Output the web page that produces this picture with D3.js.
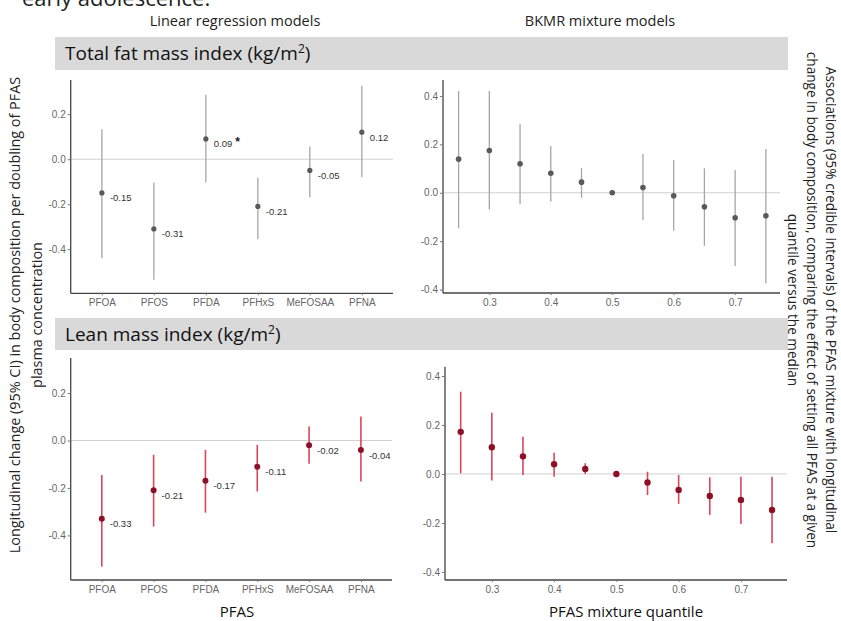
<!DOCTYPE html>
<html>
<head>
<meta charset="utf-8">
<script src="https://cdn.jsdelivr.net/npm/d3@7"></script>
<style>
  body { margin: 0; background: #fff; }
  svg { display: block; }
  .tick text { font-family: "Liberation Sans", Arial, sans-serif; }
</style>
</head>
<body>
<svg id="chart" width="841" height="621"></svg>
<script>
// ---- data ----
var pfas = ["PFOA", "PFOS", "PFDA", "PFHxS", "MeFOSAA", "PFNA"];

// linear regression, total fat mass index
var fatEst   = [-0.15, -0.31, 0.09, -0.21, -0.05, 0.12];
var fatLow   = [-0.44, -0.536, -0.104, -0.356, -0.169, -0.08];
var fatHigh  = [0.133, -0.104, 0.286, -0.082, 0.056, 0.326];
var fatSig   = [false, false, true, false, false, false];

// linear regression, lean mass index
var leanEst  = [-0.33, -0.21, -0.17, -0.11, -0.02, -0.04];
var leanLow  = [-0.532, -0.363, -0.304, -0.215, -0.098, -0.173];
var leanHigh = [-0.145, -0.06, -0.039, -0.018, 0.059, 0.101];
var leanSig  = [false, false, false, false, false, false];

// BKMR mixture quantiles
var quantiles = [0.25, 0.30, 0.35, 0.40, 0.45, 0.50, 0.55, 0.60, 0.65, 0.70, 0.75];
var bkFatEst  = [0.139, 0.175, 0.120, 0.081, 0.044, 0, 0.022, -0.012, -0.058, -0.103, -0.095];
var bkFatLow  = [-0.147, -0.069, -0.047, -0.037, -0.021, 0, -0.113, -0.157, -0.219, -0.302, -0.374];
var bkFatHigh = [0.421, 0.421, 0.283, 0.193, 0.103, 0, 0.16, 0.135, 0.101, 0.094, 0.181];

var bkLeanEst  = [0.172, 0.109, 0.072, 0.040, 0.020, 0, -0.035, -0.065, -0.090, -0.106, -0.147];
var bkLeanLow  = [0.003, -0.027, -0.004, -0.011, 0.0, 0, -0.086, -0.122, -0.167, -0.204, -0.283];
var bkLeanHigh = [0.336, 0.25, 0.152, 0.087, 0.044, 0, 0.009, -0.004, -0.014, -0.011, -0.011];

var yTicks = [-0.4, -0.2, 0.0, 0.2];
var yTicksBk = [-0.4, -0.2, 0.0, 0.2, 0.4];
var xTicksBk = [0.3, 0.4, 0.5, 0.6, 0.7];

var svg = d3.select("#chart");
var titleFont = "'Open Sans', 'Noto Sans', sans-serif";
var fmt1 = function(d){ return d.toFixed(1); };   // plain hyphen minus, like ggplot
var fmt2 = function(d){ return d.toFixed(2); };

// partially visible caption at the very top
svg.append("text").attr("x", 22).attr("y", 6)
  .attr("font-family", titleFont).attr("font-size", 22).attr("fill", "#222")
  .text("early adolescence.");

// column headers
svg.append("text").attr("x", 235).attr("y", 26).attr("text-anchor", "middle")
  .attr("font-family", titleFont).attr("font-size", 14.5).attr("fill", "#222")
  .text("Linear regression models");
svg.append("text").attr("x", 600).attr("y", 26).attr("text-anchor", "middle")
  .attr("font-family", titleFont).attr("font-size", 14.5).attr("fill", "#222")
  .text("BKMR mixture models");

// strips
function strip(y0, h, label){
  svg.append("rect").attr("x", 55).attr("y", y0).attr("width", 733).attr("height", h)
    .attr("fill", "#d9d9d9");
  var t = svg.append("text").attr("x", 65).attr("y", y0 + h/2 + 6.5)
    .attr("font-family", titleFont).attr("font-size", 19).attr("fill", "#111");
  t.append("tspan").text(label);
  t.append("tspan").attr("font-size", 12).attr("dy", -7).text("2");
  t.append("tspan").attr("dy", 7).text(")");
}
strip(37, 33, "Total fat mass index (kg/m");
strip(318, 32, "Lean mass index (kg/m");

// generic panel
function panel(opt){
  var g = svg.append("g");
  var x = opt.x, y = opt.y;

  // zero reference
  g.append("line")
    .attr("x1", x.range()[0]).attr("x2", x.range()[1])
    .attr("y1", y(0)).attr("y2", y(0))
    .attr("stroke", "#d0d0d0").attr("stroke-width", 1);

  var yAxis = g.append("g").attr("transform", "translate(" + x.range()[0] + ",0)")
    .call(d3.axisLeft(y).tickValues(opt.yTicks).tickSize(3).tickPadding(2)
      .tickFormat(fmt1));
  var xAxis = g.append("g").attr("transform", "translate(0," + y.range()[0] + ")")
    .call(opt.xAxis.tickSize(2).tickPadding(4));
  [yAxis, xAxis].forEach(function(a){
    a.select(".domain").attr("stroke", "#444").attr("stroke-width", 1.3);
    a.selectAll(".tick line").attr("stroke", "#777");
    a.selectAll(".tick text").attr("font-size", 10).attr("fill", "#666");
  });
  // axis domains only as lines (no end caps)
  yAxis.select(".domain").attr("d", "M0," + y.range()[0] + "V" + y.range()[1]);
  xAxis.select(".domain").attr("d", "M" + x.range()[0] + ",0H" + x.range()[1]);

  var rows = opt.keys.map(function(k, i){
    return {k: k, est: opt.est[i], lo: opt.lo[i], hi: opt.hi[i], sig: opt.sig ? opt.sig[i] : false};
  });

  g.selectAll(".ci").data(rows).enter().append("line")
    .attr("x1", function(d){ return x(d.k); })
    .attr("x2", function(d){ return x(d.k); })
    .attr("y1", function(d){ return y(d.lo); })
    .attr("y2", function(d){ return y(d.hi); })
    .attr("stroke", opt.ciColor).attr("stroke-width", opt.ciWidth);

  g.selectAll(".pt").data(rows).enter().append("circle")
    .attr("cx", function(d){ return x(d.k); })
    .attr("cy", function(d){ return y(d.est); })
    .attr("r", opt.r)
    .attr("fill", opt.ptColor);

  if (opt.labels) {
    var lab = g.selectAll(".lab").data(rows).enter().append("text")
      .attr("x", function(d){ return x(d.k) + 8; })
      .attr("y", function(d){ return y(d.est) + 8.5; })
      .attr("font-family", "'Liberation Sans', Arial, sans-serif")
      .attr("font-size", 9.5).attr("fill", "#333");
    lab.append("tspan").text(function(d){ return fmt2(d.est); });
    lab.filter(function(d){ return d.sig; }).append("tspan")
      .attr("dx", 3).attr("dy", -1).attr("font-size", 12).attr("font-weight", "bold")
      .attr("fill", "#222").text("*");
  }
}

// top-left: linear regression fat
var xCat1 = d3.scalePoint().domain(pfas).range([70.7, 393]).padding(0.6);
panel({
  x: xCat1, y: d3.scaleLinear().domain([-0.596, 0.352]).range([293.3, 80]),
  yTicks: yTicks, xAxis: d3.axisBottom(xCat1), keys: pfas,
  est: fatEst, lo: fatLow, hi: fatHigh, sig: fatSig,
  ciColor: "#a6a6a6", ciWidth: 1.3, ptColor: "#595959", r: 2.6, labels: true
});

// top-right: BKMR fat
var xQ1 = d3.scaleLinear().domain([0.2246, 0.773]).range([443, 780]);
panel({
  x: xQ1, y: d3.scaleLinear().domain([-0.414, 0.466]).range([293, 80]),
  yTicks: yTicksBk,
  xAxis: d3.axisBottom(xQ1).tickValues(xTicksBk).tickFormat(fmt1),
  keys: quantiles, est: bkFatEst, lo: bkFatLow, hi: bkFatHigh,
  ciColor: "#a6a6a6", ciWidth: 1.3, ptColor: "#595959", r: 2.8, labels: false
});

// bottom-left: linear regression lean
var xCat2 = d3.scalePoint().domain(pfas).range([70.7, 392]).padding(0.6);
panel({
  x: xCat2, y: d3.scaleLinear().domain([-0.588, 0.348]).range([580, 358]),
  yTicks: yTicks, xAxis: d3.axisBottom(xCat2), keys: pfas,
  est: leanEst, lo: leanLow, hi: leanHigh, sig: leanSig,
  ciColor: "#d9475a", ciWidth: 1.6, ptColor: "#8c1026", r: 3, labels: true
});

// bottom-right: BKMR lean
var xQ2 = d3.scaleLinear().domain([0.2248, 0.774]).range([445, 787]);
panel({
  x: xQ2, y: d3.scaleLinear().domain([-0.433, 0.438]).range([580, 366.7]),
  yTicks: yTicksBk,
  xAxis: d3.axisBottom(xQ2).tickValues(xTicksBk).tickFormat(fmt1),
  keys: quantiles, est: bkLeanEst, lo: bkLeanLow, hi: bkLeanHigh,
  ciColor: "#d9475a", ciWidth: 1.6, ptColor: "#8c1026", r: 3.2, labels: false
});

// x axis titles
svg.append("text").attr("x", 237).attr("y", 617).attr("text-anchor", "middle")
  .attr("font-family", titleFont).attr("font-size", 15).attr("fill", "#111").text("PFAS");
svg.append("text").attr("x", 626).attr("y", 617).attr("text-anchor", "middle")
  .attr("font-family", titleFont).attr("font-size", 15).attr("fill", "#111")
  .text("PFAS mixture quantile");

// left y title
var yl = svg.append("text").attr("transform", "translate(20,315) rotate(-90)")
  .attr("text-anchor", "middle").attr("font-family", titleFont)
  .attr("font-size", 14.4).attr("fill", "#222");
yl.append("tspan").attr("x", 0).attr("y", 0)
  .text("Longitudinal change (95% CI) in body composition per doubling of PFAS");
yl.append("tspan").attr("x", 0).attr("y", 22).text("plasma concentration");

// right y title
var yr = svg.append("text").attr("transform", "translate(826,300) rotate(90)")
  .attr("text-anchor", "middle").attr("font-family", titleFont)
  .attr("font-size", 13.6).attr("fill", "#222");
yr.append("tspan").attr("x", 0).attr("y", 0)
  .text("Associations (95% credible intervals) of the PFAS mixture with longitudinal");
yr.append("tspan").attr("x", 0).attr("y", 19)
  .text("change in body composition, comparing the effect of setting all PFAS at a given");
yr.append("tspan").attr("x", 0).attr("y", 38).text("quantile versus the median");
</script>
</body>
</html>
